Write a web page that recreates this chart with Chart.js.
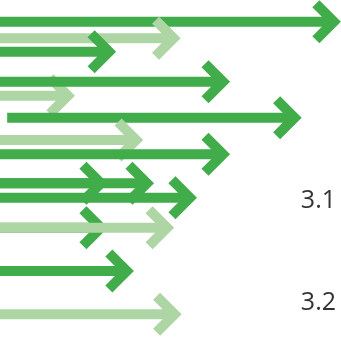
<!DOCTYPE html>
<html>
<head>
<meta charset="utf-8">
<script src="https://cdn.jsdelivr.net/npm/chart.js@4"></script>
<style>
  html, body { margin: 0; padding: 0; background: #fff; overflow: hidden; }
  #wrap { width: 341px; height: 342px; }
</style>
</head>
<body>
<div id="wrap"><canvas id="chart"></canvas></div>
<script>
// arrows listed in drawing order (first drawn = bottom)
const arrowRow   = [2.9247, 2.9410, 2.9541, 2.9973, 2.9835, 3.0188, 3.0407, 3.0547, 3.0831, 3.0831, 3.0973, 3.1267, 3.1267, 3.1691, 3.2116];
const arrowStart = [0, 0, 0, 0, 0, 2.1, 0, 0, 0, 0, 0, 0, 0, 0, 0];
const arrowEnd   = [97.9, 50.9, 32.0, 19.9, 65.4, 86.4, 39.9, 65.4, 29.6, 43.1, 55.7, 29.6, 49.0, 37.2, 51.2];
const arrowTone  = ['dark', 'light', 'dark', 'light', 'dark', 'dark', 'light', 'dark', 'dark', 'dark', 'dark', 'dark', 'light', 'dark', 'light'];
const rowLabels  = [3.1, 3.2];

const toneColor = { dark: '#41ad4a', light: '#aed5a4' };

const datasets = arrowRow.map((y, i) => ({
  type: 'line',
  data: [{ x: arrowStart[i], y: y }, { x: arrowEnd[i], y: y }],
  borderColor: toneColor[arrowTone[i]],
  borderWidth: 10,
  borderCapStyle: 'butt',
  pointRadius: 0,
  pointHoverRadius: 0,
  tension: 0,
  order: arrowRow.length - i,
}));

// chevron head drawn right after its own shaft, so overlaps keep the same order
const arrowHeads = {
  id: 'arrowHeads',
  afterDatasetDraw(chart, args) {
    const pts = args.meta.data;
    const tip = pts[pts.length - 1];
    const ds = chart.data.datasets[args.index];
    const ctx = chart.ctx;
    const L = 18;
    ctx.save();
    ctx.strokeStyle = ds.borderColor;
    ctx.lineWidth = 10;
    ctx.lineJoin = 'miter';
    ctx.lineCap = 'butt';
    ctx.beginPath();
    ctx.moveTo(tip.x - L, tip.y - L);
    ctx.lineTo(tip.x, tip.y);
    ctx.lineTo(tip.x - L, tip.y + L);
    ctx.stroke();
    ctx.restore();
  }
};

new Chart(document.getElementById('chart'), {
  data: { datasets },
  options: {
    responsive: true,
    maintainAspectRatio: false,
    animation: false,
    layout: { padding: 0 },
    plugins: { legend: { display: false }, tooltip: { enabled: false } },
    scales: {
      x: { type: 'linear', min: 0, max: 100, display: false },
      y: {
        type: 'linear',
        position: 'right',
        reverse: true,
        min: 2.90343,
        max: 3.23873,
        afterBuildTicks: (axis) => { axis.ticks = rowLabels.map(v => ({ value: v })); },
        // labels sit well inside, so no extra room above/below
        afterFit: (axis) => { axis.paddingTop = 0; axis.paddingBottom = 0; axis.width = 0; },
        grid: { display: false, drawTicks: false },
        border: { display: false },
        ticks: {
          mirror: true,
          padding: -5,
          color: '#333333',
          font: { family: 'Open Sans', size: 25 },
          callback: (v) => v.toFixed(1),
        },
      },
    },
  },
  plugins: [arrowHeads],
});
</script>
</body>
</html>
